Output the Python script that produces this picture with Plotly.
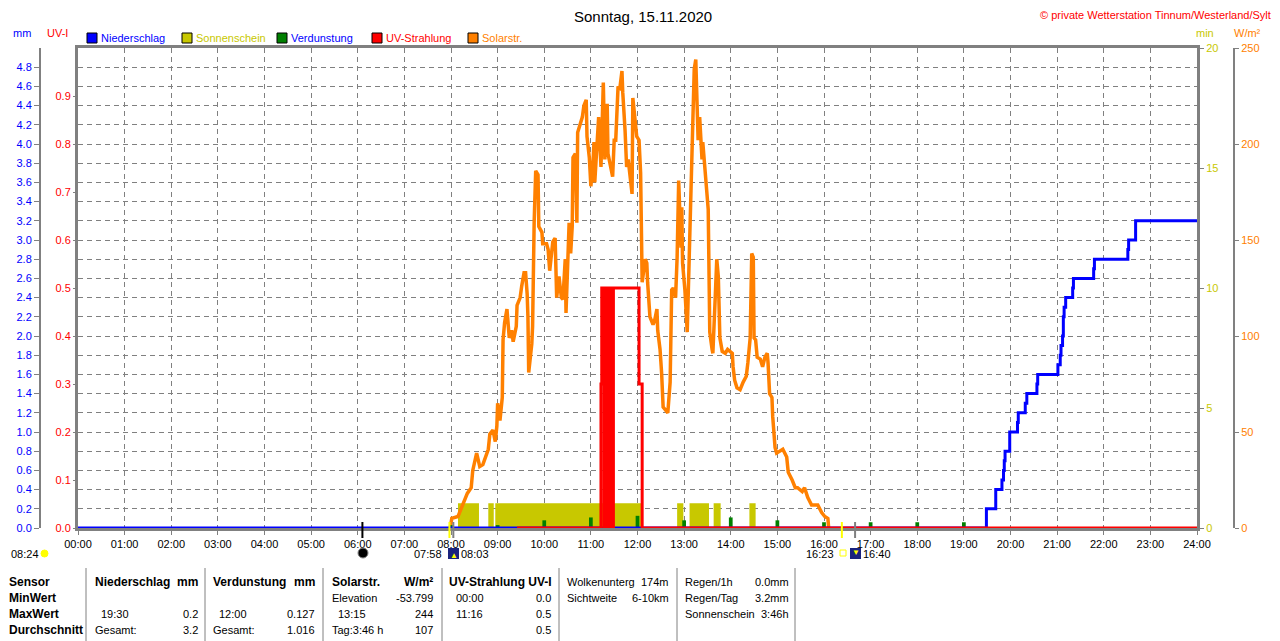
import plotly.graph_objects as go


def hrs(t):
    h, m = t.split(":")
    return int(h) + int(m) / 60


# Solarstrahlung (W/m²)
solar_times = ["07:59", "08:01", "08:09", "08:14", "08:21", "08:26", "08:28", "08:33", "08:37", "08:41",
               "08:48", "08:50", "08:54", "08:57", "08:59", "09:00", "09:03", "09:06", "09:07", "09:09",
               "09:12", "09:15", "09:18", "09:20", "09:24", "09:25", "09:29", "09:31", "09:34", "09:36",
               "09:38", "09:39", "09:40", "09:44", "09:45", "09:47", "09:49", "09:52", "09:53", "09:57",
               "09:58", "10:03", "10:05", "10:07", "10:11", "10:14", "10:16", "10:19", "10:22", "10:24",
               "10:27", "10:28", "10:31", "10:32", "10:34", "10:36", "10:37", "10:40", "10:42", "10:43",
               "10:49", "10:51", "10:54", "10:55", "10:58", "11:00", "11:03", "11:04", "11:05", "11:08",
               "11:10", "11:13", "11:16", "11:18", "11:21", "11:22", "11:26", "11:28", "11:30", "11:32",
               "11:35", "11:37", "11:40", "11:41", "11:44", "11:46", "11:48", "11:50", "11:53", "11:54",
               "11:57", "11:59", "12:02", "12:04", "12:06", "12:10", "12:12", "12:13", "12:16", "12:20",
               "12:22", "12:25", "12:26", "12:29", "12:31", "12:33", "12:37", "12:39", "12:42", "12:44",
               "12:46", "12:49", "12:51", "12:52", "12:53", "12:56", "12:57", "12:58", "13:01", "13:04",
               "13:05", "13:08", "13:10", "13:11", "13:13", "13:15", "13:17", "13:18", "13:20", "13:23",
               "13:24", "13:27", "13:29", "13:31", "13:32", "13:33", "13:36", "13:37", "13:40", "13:42",
               "13:44", "13:46", "13:49", "13:53", "13:56", "14:02", "14:03", "14:05", "14:08", "14:12",
               "14:16", "14:20", "14:22", "14:25", "14:27", "14:29", "14:30", "14:32", "14:34", "14:38",
               "14:41", "14:44", "14:47", "14:48", "14:50", "14:53", "14:54", "14:57", "14:59", "15:03",
               "15:07", "15:12", "15:14", "15:19", "15:23", "15:26", "15:32", "15:35", "15:39", "15:44",
               "15:52", "15:57", "16:01", "16:05", "16:06"]
solar_vals = [0, 5, 6, 11, 18, 21, 30, 39, 32, 33,
              41, 49, 51, 45, 53, 65, 56, 68, 98, 107,
              114, 99, 103, 97, 105, 116, 120, 126, 133, 133,
              122, 110, 81, 96, 105, 159, 186, 184, 157, 154,
              148, 148, 145, 134, 149, 151, 120, 131, 120, 119,
              140, 112, 149, 159, 143, 157, 193, 195, 159, 206,
              214, 220, 223, 204, 193, 178, 192, 201, 180, 198,
              214, 188, 232, 192, 221, 195, 188, 183, 202, 202,
              230, 228, 238, 227, 207, 188, 192, 185, 174, 224,
              213, 204, 202, 185, 128, 140, 138, 128, 110, 106,
              108, 114, 103, 93, 81, 63, 61, 60, 76, 124,
              125, 120, 141, 166, 181, 146, 167, 138, 124, 102,
              117, 162, 183, 204, 239, 244, 223, 202, 214, 192,
              201, 183, 176, 166, 141, 102, 93, 91, 120, 140,
              131, 99, 92, 91, 93, 91, 84, 77, 73, 72,
              76, 79, 86, 99, 143, 141, 99, 98, 89, 88,
              84, 89, 91, 86, 70, 68, 58, 42, 39, 40,
              41, 37, 29, 25, 21, 21, 19, 21, 16, 12,
              12, 8, 6, 5, 0]

# UV-Strahlung (UV-I)
uv_times = ["09:25", "11:12", "11:13", "11:14", "11:17", "11:18", "11:20", "11:21", "11:23", "11:24",
            "11:25", "11:27", "11:28", "11:29", "12:02", "12:06", "24:00"]
uv_vals = [0, 0, 0.3, 0.5, 0, 0.5, 0, 0.5, 0.3, 0,
           0.5, 0.2, 0, 0.5, 0.3, 0, 0]

# Niederschlag kumuliert (mm)
rain_times = ["00:00", "19:29", "19:41", "19:49", "19:51", "19:52", "19:53", "19:59", "20:09", "20:10",
              "20:19", "20:21", "20:34", "20:35", "21:01", "21:04", "21:05", "21:07", "21:08", "21:09",
              "21:11", "21:20", "21:21", "21:47", "21:48", "22:31", "22:32", "22:41", "24:00"]
rain_vals = [0, 0.2, 0.4, 0.5, 0.6, 0.7, 0.8, 1.0, 1.1, 1.2,
             1.3, 1.4, 1.5, 1.6, 1.7, 1.8, 1.9, 2.0, 2.2, 2.3,
             2.4, 2.5, 2.6, 2.7, 2.8, 2.9, 3.0, 3.2, 3.2]

# Verdunstung (mm) je Stunde
evap_times = ["03:00", "04:00", "05:00", "06:00", "07:00", "08:00", "09:00", "10:00", "11:00", "12:00",
              "13:00", "14:00", "15:00", "16:00", "17:00", "18:00", "19:00", "20:00", "21:00", "22:00"]
evap_vals = [0.01, 0.01, 0.01, 0.01, 0.01, 0.03, 0.03, 0.08, 0.11, 0.127,
             0.08, 0.11, 0.08, 0.06, 0.06, 0.06, 0.06, 0.01, 0.01, 0.01]

# Sonnenschein (min)
sun_times = ["08:09", "08:36", "08:48", "08:55", "08:57", "12:05", "12:51", "12:59", "13:07", "13:32",
             "13:38", "13:47", "14:24", "14:32"]
sun_vals = [1.03, 0, 1.03, 0, 1.03, 0, 1.03, 0, 1.03, 0,
            1.03, 0, 1.03, 0]

hour_labels = [f"{h:02d}:00" for h in range(25)]

BLUE = "#0000FF"
OLIVE = "#C8C800"
GREEN = "#008000"
RED = "#FF0000"
ORANGE = "#FF8000"
GREY = "#808080"
FONT = "Liberation Sans"

# page body has an 8px margin, so the figure is a bit smaller than the window
OFF = 8
W, H = 1280 - OFF, 641 - OFF
ML, MR, MT, MB = 20 - OFF, 20, 48 - OFF, 641 - 528


def px2x(px):
    return (px - OFF - ML) / (W - ML - MR)


def py2y(py):
    return (H - MB - (py - OFF)) / (H - MT - MB)


fig = go.Figure()

# base axis y = Sonnenschein (min)
fig.add_trace(go.Scatter(
    x=[hrs(t) for t in sun_times], y=sun_vals, yaxis="y", mode="lines",
    line=dict(width=0, shape="hv"), fill="tozeroy", fillcolor=OLIVE, hoverinfo="skip"))

fig.add_trace(go.Scatter(
    x=[hrs(t) for t in solar_times], y=solar_vals, yaxis="y2", mode="lines",
    line=dict(color=ORANGE, width=3.5)))

fig.add_trace(go.Bar(
    x=[hrs(t) for t in evap_times], y=evap_vals, yaxis="y3", width=0.08,
    marker=dict(color=GREEN, line=dict(width=0))))

fig.add_trace(go.Scatter(
    x=[hrs(t) for t in rain_times], y=rain_vals, yaxis="y3", mode="lines",
    line=dict(color=BLUE, width=3, shape="hv")))

fig.add_trace(go.Scatter(
    x=[hrs(t) for t in uv_times], y=uv_vals, yaxis="y4", mode="lines",
    line=dict(color=RED, width=3, shape="hv")))

mm_ticks = [i * 0.2 for i in range(25)]
uv_ticks = [i / 10 for i in range(10)]

fig.update_layout(
    template="none",
    width=W, height=H,
    margin=dict(l=ML, r=MR, t=MT, b=MB, pad=0),
    paper_bgcolor="white", plot_bgcolor="white",
    showlegend=False,
    font=dict(family=FONT, size=11, color="black"),
    xaxis=dict(domain=[px2x(78), px2x(1197)], range=[0, 24], automargin=False,
               tickvals=list(range(25)), ticktext=hour_labels,
               showgrid=True, gridcolor=GREY, griddash="5px,4px", gridwidth=1,
               showline=True, linecolor=GREY, linewidth=3, mirror=True,
               ticks="outside", ticklen=4, tickcolor=GREY, zeroline=False,
               tickfont=dict(size=11, color="black")),
    yaxis=dict(range=[0, 20], side="right", tickvals=[0, 5, 10, 15, 20], automargin=False,
               tickfont=dict(color=OLIVE, size=11), showgrid=False, zeroline=False,
               showline=True, linecolor=GREY, linewidth=3, mirror=True,
               ticks="outside", ticklen=4, tickcolor=GREY),
    yaxis2=dict(overlaying="y", side="right", anchor="free", position=px2x(1234), automargin=False,
                range=[0, 250], tickvals=[0, 50, 100, 150, 200, 250],
                tickfont=dict(color=ORANGE, size=11), showgrid=False, zeroline=False,
                showline=True, linecolor=GREY, linewidth=2,
                ticks="outside", ticklen=4, tickcolor=GREY),
    yaxis3=dict(overlaying="y", side="left", anchor="free", position=px2x(40), automargin=False,
                range=[0, 5], tickvals=mm_ticks, ticktext=[f"{v:.1f}" for v in mm_ticks],
                tickfont=dict(color=BLUE, size=11), zeroline=False,
                showgrid=True, gridcolor=GREY, griddash="5px,4px", gridwidth=1,
                showline=True, linecolor=GREY, linewidth=2,
                ticks="outside", ticklen=5, tickcolor=GREY),
    yaxis4=dict(overlaying="y", side="left", anchor="x", automargin=False,
                range=[0, 1], tickvals=uv_ticks, ticktext=[f"{v:.1f}" for v in uv_ticks],
                tickfont=dict(color=RED, size=11), showgrid=False, zeroline=False,
                showline=False, ticks="outside", ticklen=4, tickcolor=GREY),
)

annotations = []
shapes = []


def text(s, px, py, color="black", size=11, anchor="left", bold=False):
    if bold:
        s = f"<b>{s}</b>"
    annotations.append(dict(text=s, x=px2x(px), y=py2y(py), xref="paper", yref="paper",
                            xanchor=anchor, yanchor="middle", showarrow=False, borderpad=0,
                            font=dict(color=color, size=size, family=FONT)))


# title and copyright
text("Sonntag, 15.11.2020", 643, 17, size=15, anchor="center")
text("© private Wetterstation Tinnum/Westerland/Sylt", 1272, 15, color=RED, size=11, anchor="right")

# axis units
text("mm", 22, 33, color=BLUE, anchor="center")
text("UV-I", 57, 33, color=RED, anchor="center")
text("min", 1205, 33, color=OLIVE, anchor="center")
text("W/m²", 1247, 33, color=ORANGE, anchor="center")

# legend
legend_items = [("Niederschlag", 87, BLUE, BLUE), ("Sonnenschein", 182, OLIVE, OLIVE),
                ("Verdunstung", 277, GREEN, BLUE), ("UV-Strahlung", 372, RED, RED),
                ("Solarstr.", 468, ORANGE, ORANGE)]
for name, sx, fill, tcol in legend_items:
    shapes.append(dict(type="rect", xref="paper", yref="paper",
                       x0=px2x(sx), x1=px2x(sx + 10), y0=py2y(43), y1=py2y(33),
                       fillcolor=fill, line=dict(color="black", width=1)))
    text(name, sx + 13, 38, color=tcol)

# sunrise / sunset / moon markers
event_times = ["06:06", "07:58", "08:03", "16:23", "16:40"]
event_colors = ["black", "#FFFF00", GREY, "#FFFF00", GREY]
for t, c in zip(event_times, event_colors):
    shapes.append(dict(type="line", xref="x", yref="paper", x0=hrs(t), x1=hrs(t),
                       y0=py2y(522), y1=py2y(538), line=dict(color=c, width=2)))

text("08:24", 10, 554)
shapes.append(dict(type="circle", xref="paper", yref="paper", x0=px2x(41), x1=px2x(48),
                   y0=py2y(557), y1=py2y(550), fillcolor="#FFFF00", line=dict(color="#FFFF00", width=1)))
shapes.append(dict(type="circle", xref="paper", yref="paper", x0=px2x(358), x1=px2x(368),
                   y0=py2y(558), y1=py2y(548), fillcolor="black", line=dict(color=GREY, width=1)))
text("07:58", 443, 554, anchor="right")
shapes.append(dict(type="rect", xref="paper", yref="paper", x0=px2x(448), x1=px2x(459),
                   y0=py2y(559), y1=py2y(548), fillcolor="#1A237E", line=dict(width=0)))
text("▲", 453.5, 555, color="#FFFF00", size=8, anchor="center")
text("08:03", 460, 554)
text("16:23", 835, 554, anchor="right")
shapes.append(dict(type="rect", xref="paper", yref="paper", x0=px2x(840), x1=px2x(846),
                   y0=py2y(556), y1=py2y(550), line=dict(color="#FFFF00", width=1)))
shapes.append(dict(type="rect", xref="paper", yref="paper", x0=px2x(850), x1=px2x(861),
                   y0=py2y(559), y1=py2y(548), fillcolor="#1A237E", line=dict(width=0)))
text("▼", 855.5, 552, color="#FFFF00", size=8, anchor="center")
text("16:40", 862, 554)

# statistics table
rows_y = [582, 598, 614, 630]
for label, y in zip(["Sensor", "MinWert", "MaxWert", "Durchschnitt"], rows_y):
    text(label, 8, y, size=12, bold=True)

for sx in [86, 205, 323, 442, 559, 677, 795]:
    shapes.append(dict(type="line", xref="paper", yref="paper", x0=px2x(sx), x1=px2x(sx),
                       y0=py2y(641), y1=py2y(568), line=dict(color=GREY, width=1)))

text("Niederschlag", 94, 582, size=12, bold=True)
text("mm", 199, 582, size=12, bold=True, anchor="right")
text("19:30", 100, 614)
text("0.2", 199, 614, anchor="right")
text("Gesamt:", 94, 630)
text("3.2", 199, 630, anchor="right")

text("Verdunstung", 212, 582, size=12, bold=True)
text("mm", 316, 582, size=12, bold=True, anchor="right")
text("12:00", 218, 614)
text("0.127", 316, 614, anchor="right")
text("Gesamt:", 212, 630)
text("1.016", 316, 630, anchor="right")

text("Solarstr.", 331, 582, size=12, bold=True)
text("W/m²", 434, 582, size=12, bold=True, anchor="right")
text("Elevation", 331, 598)
text("-53.799", 434, 598, anchor="right")
text("13:15", 337, 614)
text("244", 434, 614, anchor="right")
text("Tag:3:46 h", 331, 630)
text("107", 434, 630, anchor="right")

text("UV-Strahlung UV-I", 448, 582, size=12, bold=True)
text("00:00", 455, 598)
text("0.0", 552, 598, anchor="right")
text("11:16", 455, 614)
text("0.5", 552, 614, anchor="right")
text("0.5", 552, 630, anchor="right")

text("Wolkenunterg", 566, 582)
text("174m", 670, 582, anchor="right")
text("Sichtweite", 566, 598)
text("6-10km", 670, 598, anchor="right")

text("Regen/1h", 684, 582)
text("0.0mm", 790, 582, anchor="right")
text("Regen/Tag", 684, 598)
text("3.2mm", 790, 598, anchor="right")
text("Sonnenschein", 684, 614)
text("3:46h", 790, 614, anchor="right")

fig.update_layout(annotations=annotations, shapes=shapes)

fig.write_html("out.html")
